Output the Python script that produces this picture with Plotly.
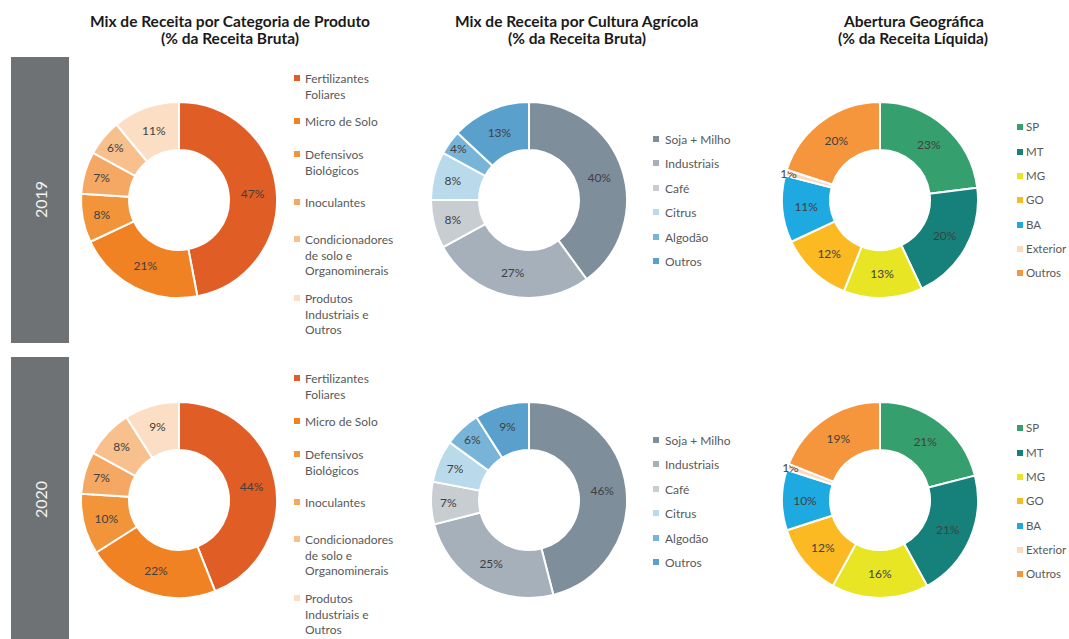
import plotly.graph_objects as go

W, H = 1069, 639

# ---------------- data ----------------
years = ["2019", "2020"]

titles_line1 = ["Mix de Receita por Categoria de Produto",
                "Mix de Receita por Cultura Agrícola",
                "Abertura Geográfica"]
titles_line2 = ["(% da Receita Bruta)",
                "(% da Receita Bruta)",
                "(% da Receita Líquida)"]

produto_labels = ["Fertilizantes<br>Foliares", "Micro de Solo", "Defensivos<br>Biológicos",
                  "Inoculantes", "Condicionadores<br>de solo e<br>Organominerais",
                  "Produtos<br>Industriais e<br>Outros"]
produto_2019 = [47, 21, 8, 7, 6, 11]
produto_2020 = [44, 22, 10, 7, 8, 9]
produto_colors = ["#E05E26", "#F08224", "#F2943A", "#F5A864", "#F8C08C", "#FCDEC4"]

cultura_labels = ["Soja + Milho", "Industriais", "Café", "Citrus", "Algodão", "Outros"]
cultura_2019 = [40, 27, 8, 8, 4, 13]
cultura_2020 = [46, 25, 7, 7, 6, 9]
cultura_colors = ["#7F8E9B", "#A6B0BA", "#C8CDD2", "#B9DAEB", "#78B4D7", "#5AA0CD"]

geo_labels = ["SP", "MT", "MG", "GO", "BA", "Exterior", "Outros"]
geo_2019 = [23, 20, 13, 12, 11, 1, 20]
geo_2020 = [21, 21, 16, 12, 10, 1, 19]
geo_colors = ["#35A06E", "#16807A", "#E8E624", "#FBBA22", "#1EAAE1", "#FCDABE", "#F5963C"]

# ---------------- layout helpers ----------------
FONT = "Lato"
TXT = "#404040"
LEG = "#595959"

centers_x = [179, 529, 880]
centers_y = [200, 500]
R = 98
title_cx = [230, 577, 913]

# legend layout (pixel positions of first-line centre of each item, 2019 row)
leg_sq_x = [297, 656, 1020]
leg_txt_x = [304, 664, 1025]
leg_font = [12, 12, 11.5]
leg_y = [
    [78, 121, 154, 202, 239, 298],
    [139, 163, 188, 212, 237, 261],
    [127, 152, 176, 200, 225, 249, 273],
]
row_offset = [0, 300]


def px(x):
    return x / W


def py(y):
    return 1 - y / H


groups = [
    (produto_labels, [produto_2019, produto_2020], produto_colors),
    (cultura_labels, [cultura_2019, cultura_2020], cultura_colors),
    (geo_labels, [geo_2019, geo_2020], geo_colors),
]

fig = go.Figure()
shapes = []
annotations = []

for ci, (labels, series, colors) in enumerate(groups):
    for ri, vals in enumerate(series):
        cx, cy = centers_x[ci], centers_y[ri]
        fig.add_trace(go.Pie(
            labels=[l.replace("<br>", " ") for l in labels],
            values=vals,
            sort=False,
            direction="clockwise",
            rotation=0,
            hole=0.51,
            marker=dict(colors=colors, line=dict(color="white", width=2)),
            texttemplate="%{value}%",
            textposition="inside",
            insidetextorientation="horizontal",
            insidetextfont=dict(family=FONT, size=12, color=TXT),
            hoverinfo="label+percent",
            showlegend=False,
            domain=dict(x=[px(cx - R), px(cx + R)], y=[py(cy + R), py(cy - R)]),
        ))
        # legend (manual, to mimic spacing)
        for li, lab in enumerate(labels):
            yc = leg_y[ci][li] + row_offset[ri] + (1 if ci > 0 and ri == 1 else 0)
            s = 3
            shapes.append(dict(type="rect", xref="paper", yref="paper",
                               x0=px(leg_sq_x[ci] - s), x1=px(leg_sq_x[ci] + s),
                               y0=py(yc + s), y1=py(yc - s),
                               fillcolor=colors[li], line=dict(width=0)))
            annotations.append(dict(text=lab, xref="paper", yref="paper",
                                    x=px(leg_txt_x[ci]), y=py(yc - 8),
                                    xanchor="left", yanchor="top", align="left",
                                    showarrow=False, borderpad=0,
                                    font=dict(family=FONT, size=leg_font[ci], color=LEG)))

# titles
for ci in range(3):
    annotations.append(dict(text="<b>" + titles_line1[ci] + "</b>", xref="paper", yref="paper",
                            x=px(title_cx[ci]), y=py(21), xanchor="center", yanchor="middle",
                            showarrow=False, font=dict(family=FONT, size=15.5, color="#1A1A1A")))
    annotations.append(dict(text="<b>" + titles_line2[ci] + "</b>", xref="paper", yref="paper",
                            x=px(title_cx[ci]), y=py(38.5), xanchor="center", yanchor="middle",
                            showarrow=False, font=dict(family=FONT, size=15.5, color="#1A1A1A")))

# year bars
bar_y = [(57, 343), (357, 645)]
for ri, yr in enumerate(years):
    y0, y1 = bar_y[ri]
    shapes.append(dict(type="rect", xref="paper", yref="paper",
                       x0=px(11), x1=px(69), y0=py(y1), y1=py(y0),
                       fillcolor="#6F7274", line=dict(width=0), layer="below"))
    annotations.append(dict(text=yr, xref="paper", yref="paper",
                            x=px(40), y=py(centers_y[ri]), xanchor="center", yanchor="middle",
                            textangle=-90, showarrow=False,
                            font=dict(family=FONT, size=16, color="#F2F2F2")))

fig.update_layout(
    width=W, height=H,
    margin=dict(l=0, r=0, t=0, b=0),
    paper_bgcolor="white", plot_bgcolor="white",
    shapes=shapes, annotations=annotations,
    uniformtext=dict(minsize=12, mode="show"),
    font=dict(family=FONT),
)

fig.write_html(
    "out.html",
    config={"displayModeBar": False},
    post_script="document.body.style.margin='0';document.body.style.overflow='hidden';",
)
